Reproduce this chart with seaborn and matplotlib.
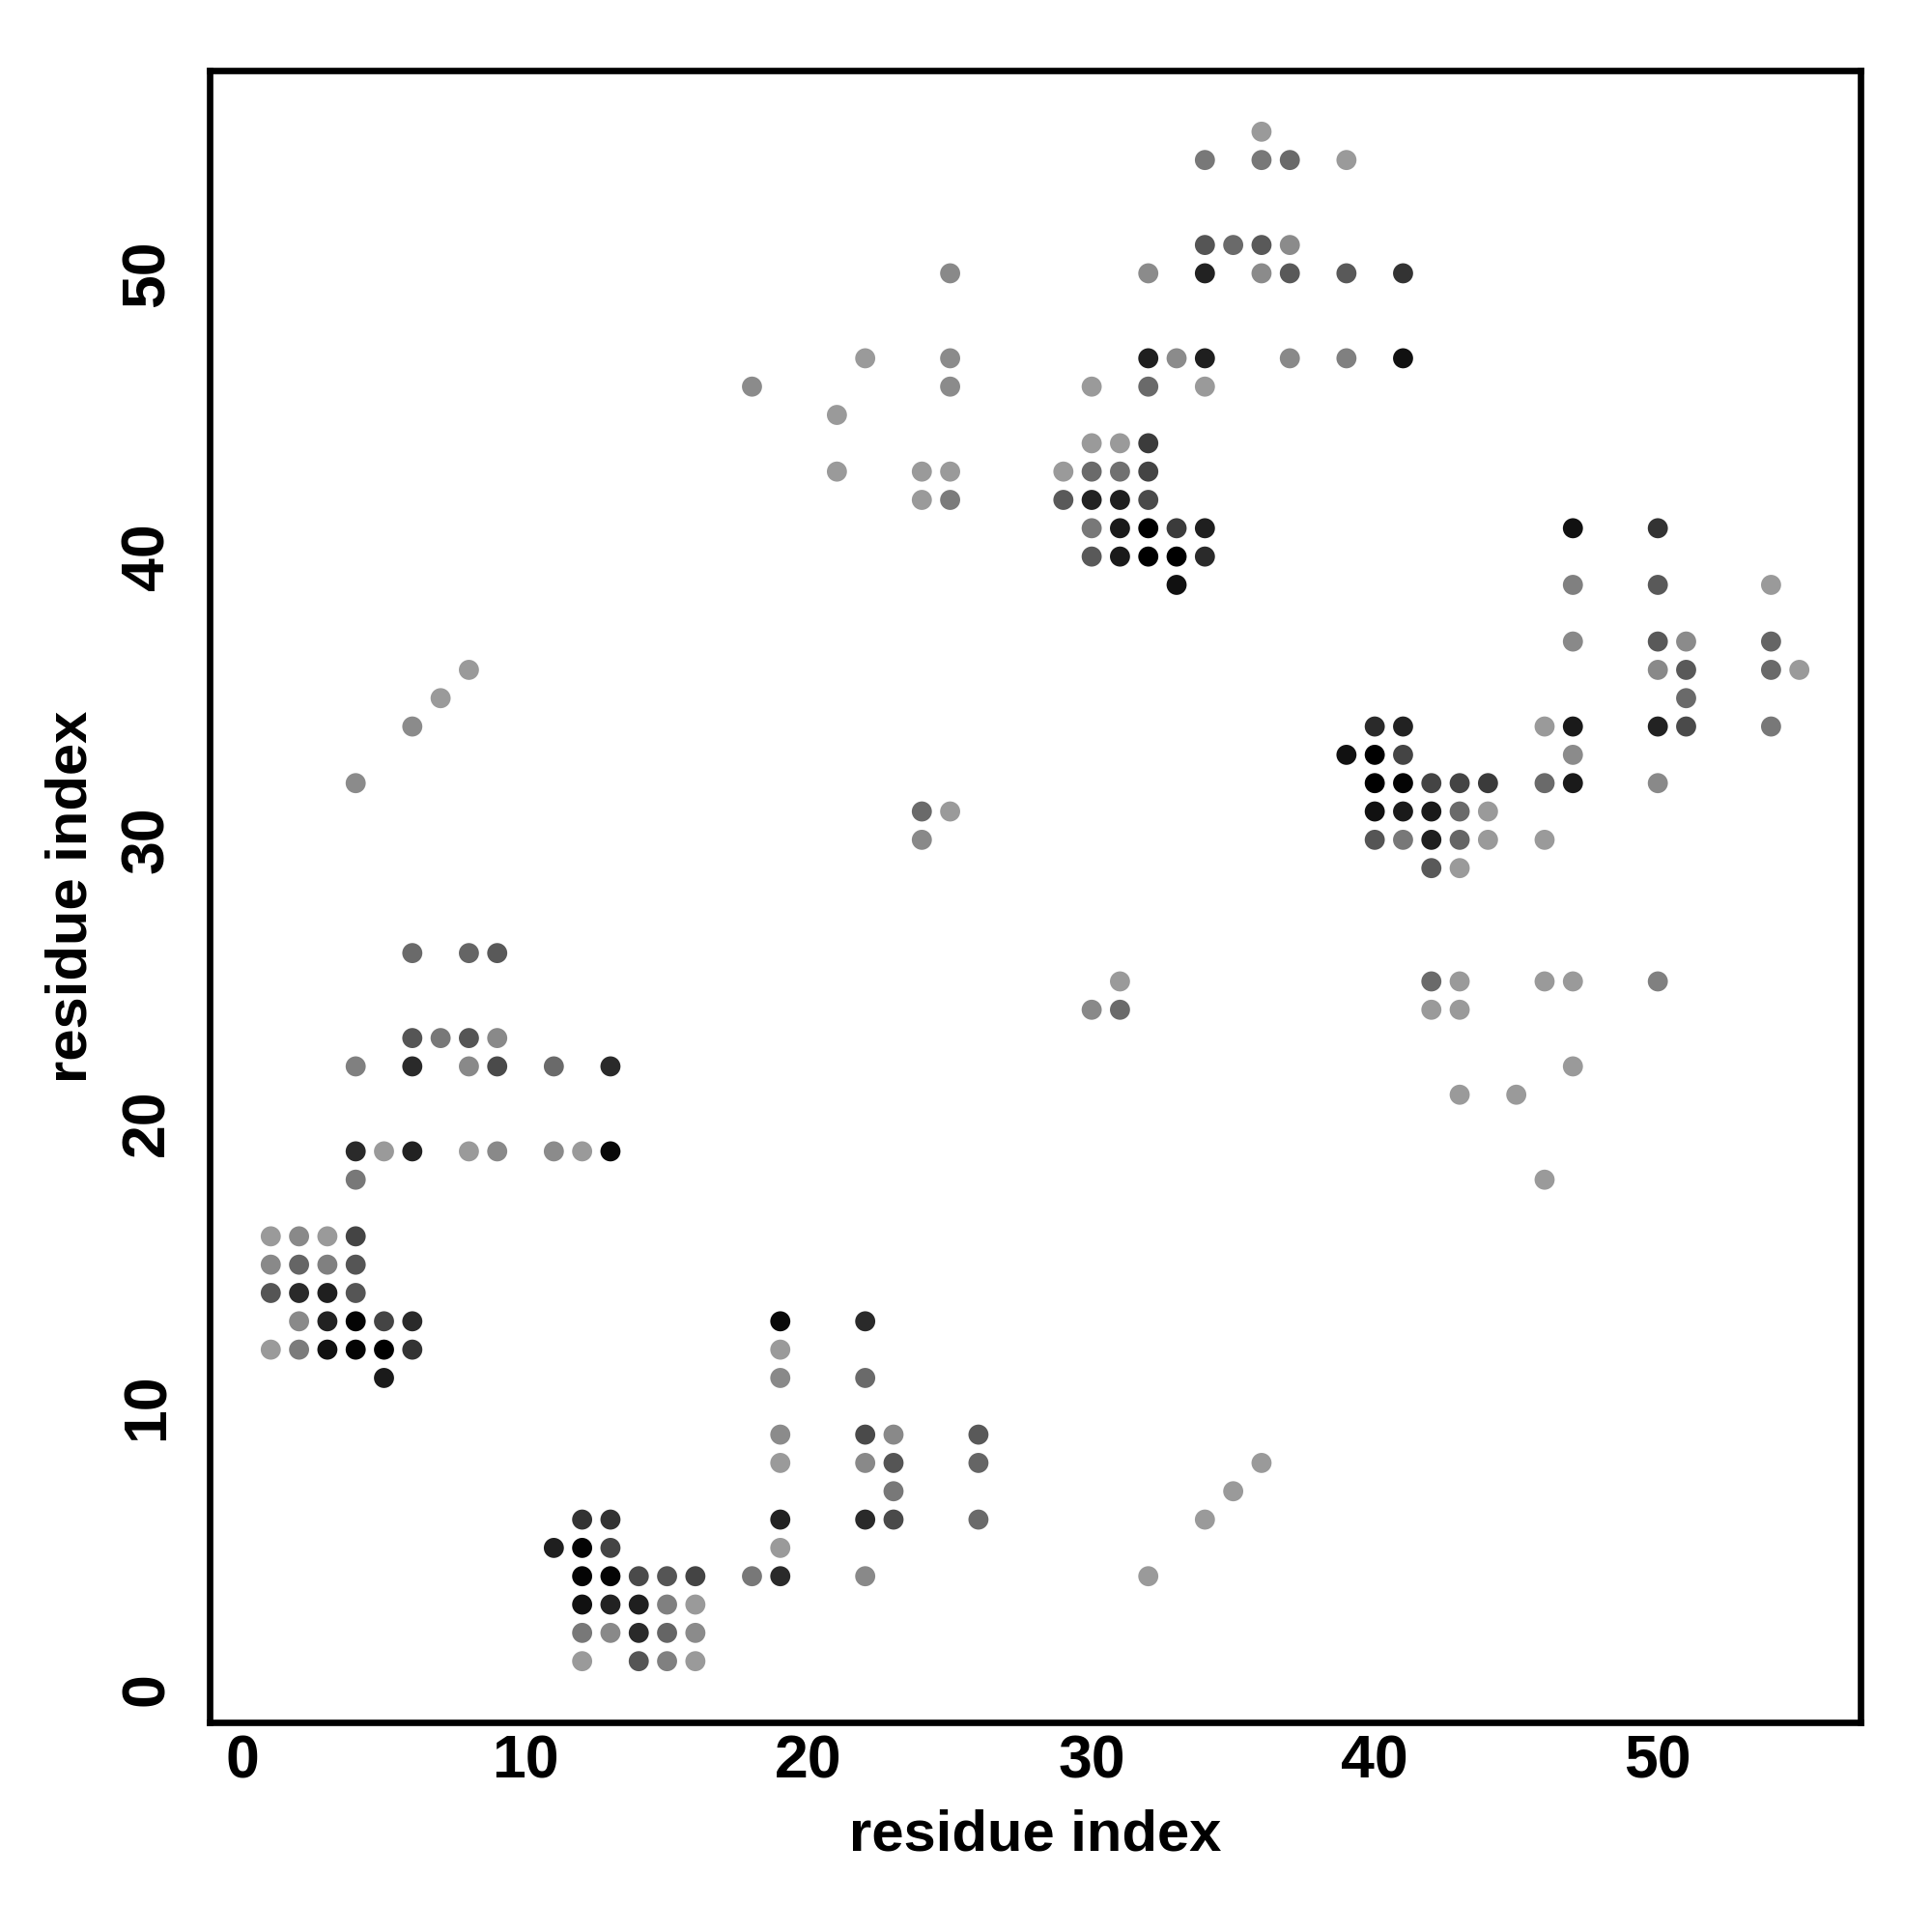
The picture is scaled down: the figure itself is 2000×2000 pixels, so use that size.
import matplotlib
matplotlib.use("Agg")
import matplotlib.pyplot as plt
from matplotlib.colors import LinearSegmentedColormap
import seaborn as sns
import pandas as pd

# residue i, residue j, contact strength (0 = weak/light grey, 1 = strong/black)
res_i = [
    1, 2, 3, 4, 1, 2, 3, 4, 1, 2, 3, 4, 2, 3, 4, 5, 6, 1, 2, 3, 4, 5, 6, 5, 4,
    4, 5, 6, 8, 9, 11, 12, 13, 4, 6, 8, 9, 11, 13, 6, 7, 8, 9, 6, 8, 9, 4, 6, 7, 8,
    12, 13, 11, 12, 13, 12, 13, 14, 15, 16, 18, 12, 13, 14, 15, 16, 12, 13, 14, 15, 16, 12, 14, 15, 16,
    19, 22, 19, 19, 22, 19, 22, 23, 26, 19, 22, 23, 26, 36, 23, 35, 19, 22, 23, 26, 34, 19, 19, 22, 32,
    24, 25, 24, 31, 30, 31,
    18, 36, 34, 36, 37, 39, 34, 35, 36, 37, 25, 32, 34, 36, 37, 39, 41,
    22, 25, 32, 33, 34, 37, 39, 41, 25, 30, 32, 34, 21, 30, 31, 32,
    21, 24, 25, 29, 30, 31, 32, 24, 25, 29, 30, 31, 32, 30, 31, 32, 33, 34, 30, 31, 32, 33, 34, 33,
    47, 50, 47, 50, 54, 47, 50, 51, 54, 50, 51, 54, 55, 51,
    40, 41, 46, 47, 50, 51, 54, 39, 40, 41, 47, 40, 41, 42, 43, 44, 46, 47, 50,
    40, 41, 42, 43, 44, 40, 41, 42, 43, 44, 46, 42, 43, 42, 43, 46, 47, 50, 42, 43, 47, 43, 45, 46,
]
res_j = [
    16, 16, 16, 16, 15, 15, 15, 15, 14, 14, 14, 14, 13, 13, 13, 13, 13, 12, 12, 12, 12, 12, 12, 11, 18,
    19, 19, 19, 19, 19, 19, 19, 19, 22, 22, 22, 22, 22, 22, 23, 23, 23, 23, 26, 26, 26, 32, 34, 35, 36,
    6, 6, 5, 5, 5, 4, 4, 4, 4, 4, 4, 3, 3, 3, 3, 3, 2, 2, 2, 2, 2, 1, 1, 1, 1,
    13, 13, 12, 11, 11, 9, 9, 9, 9, 8, 8, 8, 8, 8, 7, 7, 6, 6, 6, 6, 6, 5, 4, 4, 4,
    31, 31, 30, 25, 24, 24,
    46, 55, 54, 54, 54, 54, 51, 51, 51, 51, 50, 50, 50, 50, 50, 50, 50,
    47, 47, 47, 47, 47, 47, 47, 47, 46, 46, 46, 46, 45, 44, 44, 44,
    43, 43, 43, 43, 43, 43, 43, 42, 42, 42, 42, 42, 42, 41, 41, 41, 41, 41, 40, 40, 40, 40, 40, 39,
    41, 41, 39, 39, 39, 37, 37, 37, 37, 36, 36, 36, 36, 35,
    34, 34, 34, 34, 34, 34, 34, 33, 33, 33, 33, 32, 32, 32, 32, 32, 32, 32, 32,
    31, 31, 31, 31, 31, 30, 30, 30, 30, 30, 30, 29, 29, 25, 25, 25, 25, 25, 24, 24, 22, 21, 21, 18,
]
strength = [
    0.0, 0.11, 0.0, 0.56, 0.11, 0.34, 0.17, 0.45, 0.45, 0.73, 0.8, 0.45, 0.11, 0.78, 0.97, 0.56, 0.73,
    0.0, 0.2, 0.89, 0.97, 1.0, 0.67, 0.83, 0.22,
    0.73, 0.0, 0.78, 0.0, 0.11, 0.1, 0.0, 0.94, 0.17, 0.73, 0.11, 0.52, 0.31, 0.73, 0.45, 0.22, 0.45, 0.11,
    0.31, 0.34, 0.42, 0.1, 0.1, 0.0, 0.0,
    0.67, 0.67, 0.8, 0.97, 0.56, 0.97, 0.97, 0.52, 0.45, 0.56, 0.22, 0.89, 0.78, 0.8, 0.17, 0.0,
    0.22, 0.11, 0.73, 0.34, 0.1, 0.0, 0.45, 0.17, 0.0,
    0.94, 0.73, 0.0, 0.11, 0.31, 0.1, 0.52, 0.11, 0.42, 0.0, 0.11, 0.45, 0.34, 0.0, 0.22, 0.0,
    0.78, 0.73, 0.52, 0.31, 0.0, 0.0, 0.73, 0.11, 0.0,
    0.31, 0.0, 0.11, 0.0, 0.11, 0.31,
    0.1, 0.0, 0.22, 0.22, 0.31, 0.0, 0.45, 0.31, 0.42, 0.1, 0.11, 0.1, 0.78, 0.1, 0.42, 0.42, 0.67,
    0.0, 0.1, 0.8, 0.1, 0.8, 0.11, 0.17, 0.89, 0.1, 0.0, 0.31, 0.0, 0.0, 0.0, 0.0, 0.62,
    0.0, 0.0, 0.0, 0.0, 0.31, 0.27, 0.56, 0.0, 0.2, 0.42, 0.78, 0.8, 0.52, 0.22, 0.83, 1.0, 0.62, 0.8,
    0.42, 0.83, 1.0, 1.0, 0.73, 0.89,
    0.89, 0.67, 0.17, 0.42, 0.0, 0.11, 0.42, 0.1, 0.34, 0.11, 0.42, 0.31, 0.0, 0.31,
    0.73, 0.78, 0.0, 0.83, 0.78, 0.52, 0.22, 0.89, 1.0, 0.56, 0.1, 1.0, 0.97, 0.56, 0.56, 0.62, 0.31, 0.83, 0.11,
    0.89, 0.83, 0.83, 0.31, 0.0, 0.45, 0.22, 0.8, 0.34, 0.0, 0.0, 0.42, 0.0, 0.31, 0.0, 0.0, 0.0, 0.17,
    0.0, 0.0, 0.0, 0.0, 0.0, 0.0,
]

ticks = [0, 10, 20, 30, 40, 50]
axis_label = "residue index"

df = pd.DataFrame({"i": res_i, "j": res_j, "s": strength})

sns.set_style("white")
plt.rcParams["font.family"] = ["Liberation Sans", "DejaVu Sans"]
plt.rcParams["font.weight"] = "bold"
plt.rcParams["text.color"] = "black"
plt.rcParams["axes.labelcolor"] = "black"
plt.rcParams["xtick.color"] = "black"
plt.rcParams["ytick.color"] = "black"

fig = plt.figure(figsize=(10, 10), dpi=200)
ax = fig.add_axes([0.1085, 0.1085, 0.8545, 0.855])

cmap = LinearSegmentedColormap.from_list("gr", ["#9a9a9a", "#000000"])
sns.scatterplot(data=df, x="i", y="j", hue="s", palette=cmap, hue_norm=(0, 1),
                s=56, linewidth=0, legend=False, ax=ax)

ax.set_xlim(-1.16, 57.16)
ax.set_ylim(-1.16, 57.16)
ax.set_xticks(ticks)
ax.set_yticks(ticks)
ax.set_xticklabels([str(t) for t in ticks], fontsize=22.5, fontweight="bold", color="black")
ax.set_yticklabels([str(t) for t in ticks], fontsize=22.5, fontweight="bold", color="black",
                   rotation=90, va="center")
ax.tick_params(axis="both", direction="out", length=3.5, width=1.0, color="black")
ax.tick_params(axis="x", pad=0.5)
ax.tick_params(axis="y", pad=9)
ax.set_xlabel(axis_label, fontsize=21.5, fontweight="bold", labelpad=7, color="black")
ax.set_ylabel(axis_label, fontsize=21.5, fontweight="bold", labelpad=8, color="black")
for sp in ax.spines.values():
    sp.set_visible(True)
    sp.set_color("black")
    sp.set_linewidth(2.4)

fig.savefig("out.png", dpi=200, facecolor="white")
